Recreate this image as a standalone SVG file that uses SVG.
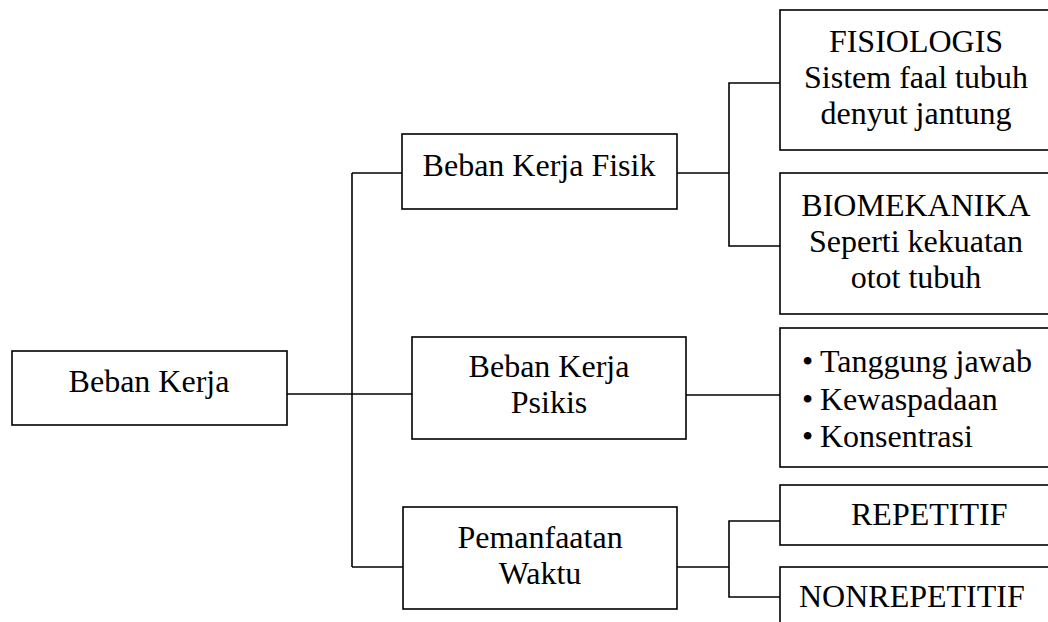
<svg xmlns="http://www.w3.org/2000/svg" width="1048" height="622" viewBox="0 0 1048 622">
<style>
.box{fill:#fff;stroke:#000;stroke-width:1.6}
.ln{fill:none;stroke:#000;stroke-width:1.6}
.t{font-family:'Liberation Serif','Times New Roman','DejaVu Serif',serif;font-size:32px;fill:#000}
.c{text-anchor:middle}
</style>
<rect width="1048" height="622" fill="#fff"/>
<g id="connectors">
<path class="ln" d="M287 394 H412"/>
<path class="ln" d="M352 173 V567"/>
<path class="ln" d="M352 173 H402"/>
<path class="ln" d="M352 567 H403"/>
<path class="ln" d="M677 173 H729"/>
<path class="ln" d="M780 83 H729 V246 H780"/>
<path class="ln" d="M686 395 H780"/>
<path class="ln" d="M677 567 H729"/>
<path class="ln" d="M780 521 H729 V597 H780"/>
</g>
<g class="t" font-family="Liberation Serif, Times New Roman, DejaVu Serif, serif">
<g id="beban-kerja">
<rect class="box" x="12" y="351" width="275" height="74"/>
<text class="c" x="149" y="392">Beban Kerja</text>
</g>
<g id="fisik">
<rect class="box" x="402" y="134" width="275" height="75"/>
<text class="c" x="539" y="176">Beban Kerja Fisik</text>
</g>
<g id="psikis">
<rect class="box" x="412" y="337" width="274" height="102"/>
<text class="c" x="549" y="377">Beban Kerja</text>
<text class="c" x="549" y="413">Psikis</text>
</g>
<g id="pemanfaatan">
<rect class="box" x="403" y="507" width="274" height="102"/>
<text class="c" x="540" y="548">Pemanfaatan</text>
<text class="c" x="540" y="584">Waktu</text>
</g>
<g id="fisiologis">
<rect class="box" x="780" y="10" width="290" height="140"/>
<text class="c" x="916" y="52">FISIOLOGIS</text>
<text class="c" x="916" y="88">Sistem faal tubuh</text>
<text class="c" x="916" y="124">denyut jantung</text>
</g>
<g id="biomekanika">
<rect class="box" x="780" y="173" width="290" height="141"/>
<text class="c" x="916" y="216">BIOMEKANIKA</text>
<text class="c" x="916" y="252">Seperti kekuatan</text>
<text class="c" x="916" y="288">otot tubuh</text>
</g>
<g id="psikis-list">
<rect class="box" x="780" y="328" width="290" height="139"/>
<text x="802" y="372">•</text><text x="820" y="372">Tanggung jawab</text>
<text x="802" y="410">•</text><text x="820" y="410">Kewaspadaan</text>
<text x="802" y="447">•</text><text x="820" y="447">Konsentrasi</text>
</g>
<g id="repetitif">
<rect class="box" x="780" y="485" width="290" height="60"/>
<text x="851" y="525">REPETITIF</text>
</g>
<g id="nonrepetitif">
<rect class="box" x="780" y="567" width="290" height="80"/>
<text x="799" y="607">NONREPETITIF</text>
</g>
</g>
</svg>
